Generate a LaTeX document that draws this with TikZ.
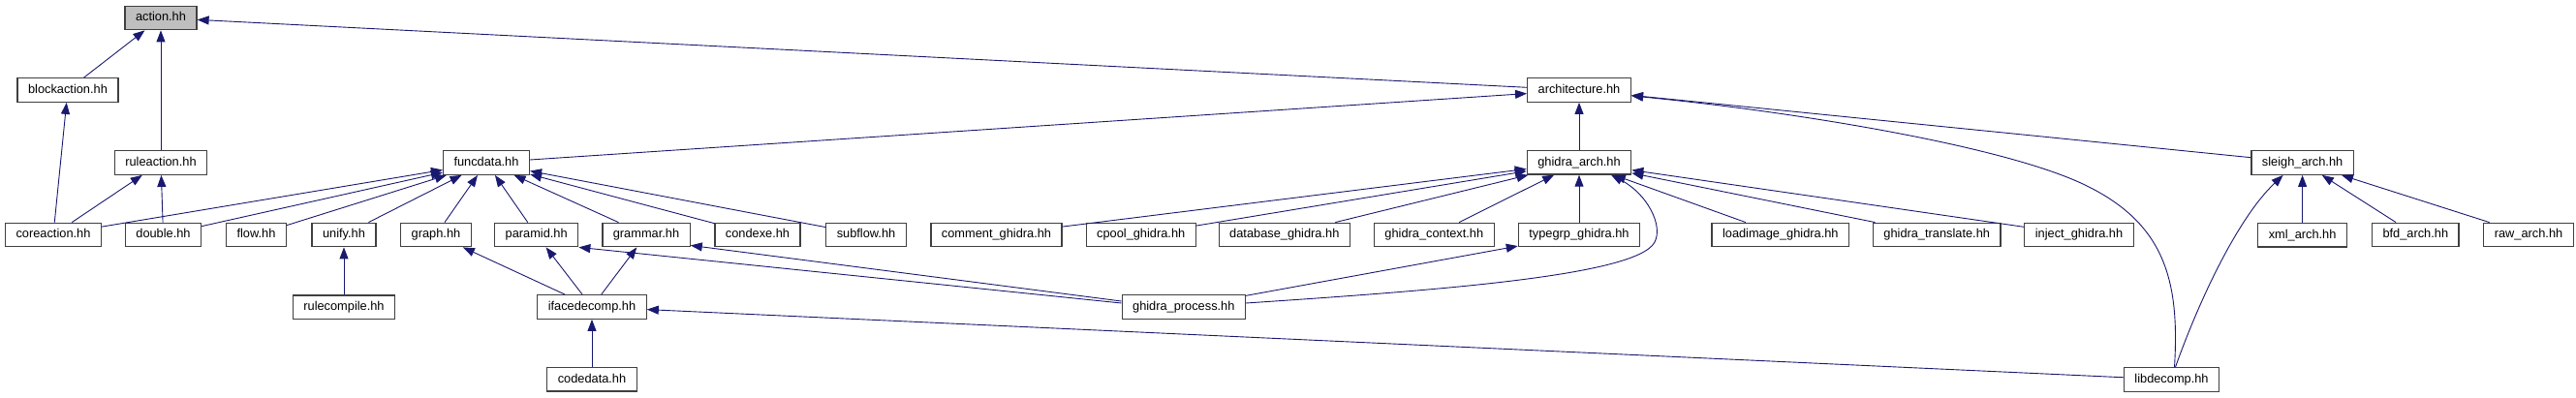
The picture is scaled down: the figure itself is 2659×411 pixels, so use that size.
\documentclass[tikz,border=0pt]{standalone}
\usepackage{fontspec}
\setmainfont{Liberation Sans}
\usepackage{tikz}
\usetikzlibrary{arrows.meta,positioning}
\definecolor{azulnoche}{RGB}{25,25,112}
\definecolor{grisborde}{RGB}{64,64,64}
\definecolor{grisclaro}{RGB}{191,191,191}

\begin{document}
\begin{tikzpicture}[x=1pt,y=-1pt,
  archivo/.style={draw=grisborde,line width=1.3pt,fill=white,minimum height=24.5pt,
    inner xsep=11pt,inner ysep=0pt,text height=9.4pt,text depth=2.6pt,
    font=\fontsize{12.8}{15}\selectfont},
  dep/.style={draw=azulnoche,line width=0.9pt,-{Triangle[length=12pt,width=9pt]}}]
\useasboundingbox (0,0) rectangle (2659,411);

% fila 1 y 2
\node[archivo,fill=grisclaro] (action) at (166,18.5) {action.hh};
\node[archivo] (blockaction) at (70,93) {blockaction.hh};
\node[archivo] (architecture) at (1630,93) {architecture.hh};

% fila 3
\node[archivo] (ruleaction) at (166,168) {ruleaction.hh};
\node[archivo] (funcdata) at (502,168) {funcdata.hh};
\node[archivo,below=49pt of architecture] (garch) {ghidra\_arch.hh};
\node[archivo] (sleigh) at (2376.6,168) {sleigh\_arch.hh};

% fila 4
\node[archivo] (coreaction) at (55,242.5) {coreaction.hh};
\node[archivo] (double) at (168.5,242.5) {double.hh};
\node[archivo] (flow) at (264.5,242.5) {flow.hh};
\node[archivo] (unify) at (355,242.5) {unify.hh};
\node[archivo] (graph) at (450,242.5) {graph.hh};
\node[archivo] (paramid) at (553.7,242.5) {paramid.hh};
\node[archivo] (grammar) at (667,242.5) {grammar.hh};
\node[archivo] (condexe) at (782,242.5) {condexe.hh};
\node[archivo] (subflow) at (894,242.5) {subflow.hh};
\node[archivo] (comment) at (1028.5,242.5) {comment\_ghidra.hh};
\node[archivo] (cpool) at (1177.7,242.5) {cpool\_ghidra.hh};
\node[archivo] (database) at (1325.8,242.5) {database\_ghidra.hh};
\node[archivo] (gcontext) at (1480.3,242.5) {ghidra\_context.hh};
\node[archivo,below=49pt of garch] (typegrp) {typegrp\_ghidra.hh};
\node[archivo] (loadimage) at (1837.8,242.5) {loadimage\_ghidra.hh};
\node[archivo] (gtranslate) at (1999.2,242.5) {ghidra\_translate.hh};
\node[archivo] (inject) at (2146,242.5) {inject\_ghidra.hh};
\node[archivo,below=49pt of sleigh] (xmlarch) {xml\_arch.hh};
\node[archivo] (bfdarch) at (2493.3,242.5) {bfd\_arch.hh};
\node[archivo] (rawarch) at (2610,242.5) {raw\_arch.hh};

% fila 5 y 6
\node[archivo,below=49pt of unify] (rulecompile) {rulecompile.hh};
\node[archivo] (ifacedecomp) at (611,317) {ifacedecomp.hh};
\node[archivo] (gproc) at (1221.8,317) {ghidra\_process.hh};
\node[archivo,below=49pt of ifacedecomp] (codedata) {codedata.hh};
\node[archivo] (libdecomp) at (2241.5,392) {libdecomp.hh};

% dependencias
\draw[dep] (blockaction) -- (action);
\draw[dep] (ruleaction) -- (action);
\draw[dep] (architecture) -- (action);
\draw[dep] (coreaction) -- (blockaction);
\draw[dep] (coreaction) -- (ruleaction);
\draw[dep] (double) -- (ruleaction);
\draw[dep] (funcdata) -- (architecture);
\draw[dep] (garch) -- (architecture);
\draw[dep] (sleigh) -- (architecture);
\draw[dep] ([xshift=3pt]libdecomp.north) .. controls (2250,290) and (2235,230) .. (2150,190)
  .. controls (2065,150) and (1850,115) .. ([yshift=-6pt]architecture.east);
\draw[dep] (coreaction) -- (funcdata);
\draw[dep] (double) -- (funcdata);
\draw[dep] (flow) -- (funcdata);
\draw[dep] (unify) -- (funcdata);
\draw[dep] (graph) -- (funcdata);
\draw[dep] (paramid) -- (funcdata);
\draw[dep] (grammar) -- (funcdata);
\draw[dep] (condexe) -- (funcdata);
\draw[dep] (subflow) -- (funcdata);
\draw[dep] (rulecompile) -- (unify);
\draw[dep] (ifacedecomp) -- (graph);
\draw[dep] (ifacedecomp) -- (paramid);
\draw[dep] (ifacedecomp) -- (grammar);
\draw[dep] ([yshift=4pt]gproc.west) -- (paramid.south east);
\draw[dep] ([yshift=6pt]gproc.west) -- ([yshift=2pt]grammar.south east);
\draw[dep] (codedata) -- (ifacedecomp);
\draw[dep] (libdecomp) -- (ifacedecomp);
\draw[dep] (comment) -- (garch);
\draw[dep] (cpool) -- (garch);
\draw[dep] (database) -- (garch);
\draw[dep] (gcontext) -- (garch);
\draw[dep] (typegrp) -- (garch);
\draw[dep] (loadimage) -- (garch);
\draw[dep] (gtranslate) -- (garch);
\draw[dep] (inject) -- (garch);
\draw[dep] ([yshift=4pt]gproc.east) .. controls (1480,300) and (1690,285) .. (1708,250)
  .. controls (1717,232.5) and (1700,200) .. ([xshift=33pt]garch.south);
\draw[dep] (gproc) -- (typegrp);
\draw[dep] (xmlarch) -- (sleigh);
\draw[dep] (bfdarch) -- (sleigh);
\draw[dep] (rawarch) -- (sleigh);
\draw[dep] ([xshift=4pt]libdecomp.north) .. controls (2270,310) and (2310,225) .. ([xshift=-20pt]sleigh.south);
\end{tikzpicture}
\end{document}
